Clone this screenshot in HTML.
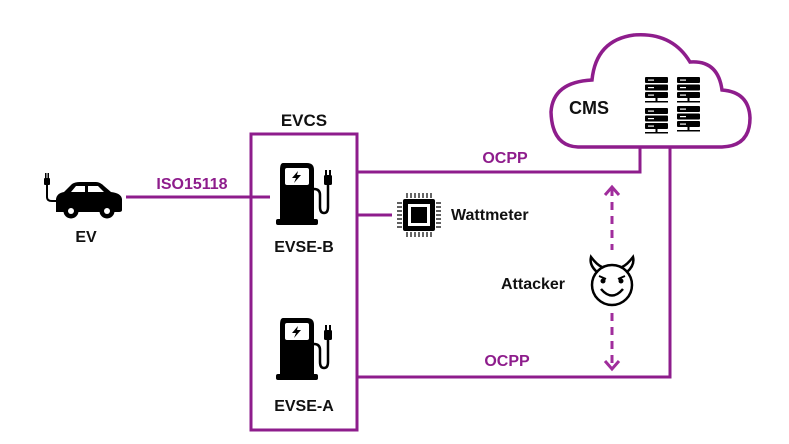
<!DOCTYPE html>
<html><head><meta charset="utf-8"><style>
body{margin:0;background:#fff;}
svg{display:block;font-family:"Liberation Sans",sans-serif;font-weight:bold;}
</style></head><body>
<svg width="789" height="444" viewBox="0 0 789 444" xmlns="http://www.w3.org/2000/svg">
<defs>
<g id="pump">
  <path d="M7 0 H31 Q38 0 38 7 V56 H4 V7 Q4 0 7 0Z" fill="#000"/>
  <rect x="0" y="56" width="42" height="6" rx="2" fill="#000"/>
  <rect x="9" y="5" width="24" height="17" rx="2" fill="#fff"/>
  <path d="M22 8 L16 15 H20 L18 20 L25 12 H21 Z" fill="#000"/>
  <path d="M38 26 Q44 26 44 32 V44 Q44 50 48 50 Q52 50 52 44 V22" fill="none" stroke="#000" stroke-width="2.5"/>
  <rect x="48" y="12" width="8" height="10" rx="1.5" fill="#000"/>
  <rect x="49" y="7" width="2" height="6" fill="#000"/>
  <rect x="53" y="7" width="2" height="6" fill="#000"/>
</g>
<g id="server">
  <rect x="0" y="0" width="23" height="6" rx="1" fill="#000"/>
  <rect x="0" y="7.5" width="23" height="6" rx="1" fill="#000"/>
  <rect x="0" y="15" width="23" height="6" rx="1" fill="#000"/>
  <rect x="3" y="2.5" width="6" height="1.2" fill="#fff"/>
  <rect x="3" y="10" width="6" height="1.2" fill="#fff"/>
  <rect x="3" y="17.5" width="6" height="1.2" fill="#fff"/>
  <rect x="10.5" y="21" width="2" height="3.5" fill="#000"/>
  <rect x="0" y="24" width="23" height="1.5" fill="#000"/>
</g>
</defs>

<path d="M578 147 H722 Q750 146 750 118 Q749 92 722 90 Q718 60 690 62 Q672 32 634 35 Q596 40 592 80 Q553 82 551 112 Q552 146 578 147Z" fill="#fff" stroke="#8e1d8c" stroke-width="3.5"/>
<text x="569" y="114" font-size="18" fill="#111">CMS</text>
<use href="#server" x="645" y="77"/>
<use href="#server" x="677" y="77"/>
<use href="#server" x="645" y="108"/>
<use href="#server" x="677" y="106"/>

<g stroke="#8e1d8c" stroke-width="3" fill="none">
  <rect x="251" y="134" width="106" height="296"/>
  <line x1="126" y1="197" x2="270" y2="197"/>
  <polyline points="357,172 640,172 640,146"/>
  <polyline points="357,377 670,377 670,146"/>
  <line x1="357" y1="215" x2="392" y2="215"/>
</g>
<text x="304" y="126" font-size="17" text-anchor="middle" fill="#111">EVCS</text>
<text x="192" y="189" font-size="16" text-anchor="middle" fill="#8e1d8c">ISO15118</text>
<text x="505" y="163" font-size="16" text-anchor="middle" fill="#8e1d8c">OCPP</text>
<text x="507" y="366" font-size="16" text-anchor="middle" fill="#8e1d8c">OCPP</text>

<g fill="#000">
  <path d="M56 212 V199 Q57 193 64 192 L72 184 Q75 182 80 182 H96 Q100 182 104 186 L111 192 Q121 193 122 199 V210 Q122 212 119 212Z"/>
  <path d="M76 186 H85 V192 H71Z M88 186 H98 L104 192 H88Z" fill="#fff"/>
  <circle cx="71" cy="211" r="7.5"/><circle cx="107" cy="211" r="7.5"/>
  <circle cx="71" cy="211" r="3" fill="#fff"/><circle cx="107" cy="211" r="3" fill="#fff"/>
  <rect x="44" y="178" width="6" height="7" rx="1"/>
  <rect x="45" y="173" width="1.5" height="5"/><rect x="47.5" y="173" width="1.5" height="5"/>
</g>
<path d="M47 185 V197 Q47 201 52 201 H57" fill="none" stroke="#000" stroke-width="2"/>
<text x="86" y="242" font-size="16" text-anchor="middle" fill="#111">EV</text>

<use href="#pump" x="276" y="163"/>
<text x="304" y="252" font-size="16" text-anchor="middle" fill="#111">EVSE-B</text>
<use href="#pump" x="276" y="318"/>
<text x="304" y="411" font-size="16" text-anchor="middle" fill="#111">EVSE-A</text>

<g fill="#000">
  <rect x="403" y="199" width="32" height="32" rx="2"/>
  <rect x="408" y="204" width="22" height="22" fill="#fff"/>
  <rect x="411" y="207" width="16" height="16"/>
  <g stroke="#000" stroke-width="1.2">
    <path d="M407 193v5M411 193v5M415 193v5M419 193v5M423 193v5M427 193v5M431 193v5"/>
    <path d="M407 232v5M411 232v5M415 232v5M419 232v5M423 232v5M427 232v5M431 232v5"/>
    <path d="M397 203h5M397 207h5M397 211h5M397 215h5M397 219h5M397 223h5M397 227h5"/>
    <path d="M436 203h5M436 207h5M436 211h5M436 215h5M436 219h5M436 223h5M436 227h5"/>
  </g>
</g>
<text x="451" y="220" font-size="16" fill="#111">Wattmeter</text>

<g stroke="#a02d9c" stroke-width="3" fill="none">
  <line x1="612" y1="188" x2="612" y2="250" stroke-dasharray="8,6"/>
  <line x1="612" y1="313" x2="612" y2="366" stroke-dasharray="8,6"/>
  <polyline points="605,195 612,187 619,195"/>
  <polyline points="605,361 612,369 619,361"/>
</g>
<g fill="none" stroke="#000" stroke-width="2.5">
  <circle cx="612" cy="285" r="20"/>
  <path d="M597 272 Q589 265 591 257 Q597 265 602 267"/>
  <path d="M627 272 Q635 265 633 257 Q627 265 622 267"/>
  <path d="M601 289 Q612 302 623 289"/>
  <path d="M599 276 L606 279 M625 276 L618 279" stroke-width="1.8"/>
</g>
<circle cx="603" cy="281" r="2.5" fill="#000"/><circle cx="621" cy="281" r="2.5" fill="#000"/>
<text x="501" y="289" font-size="16" fill="#111">Attacker</text>
</svg>
</body></html>
